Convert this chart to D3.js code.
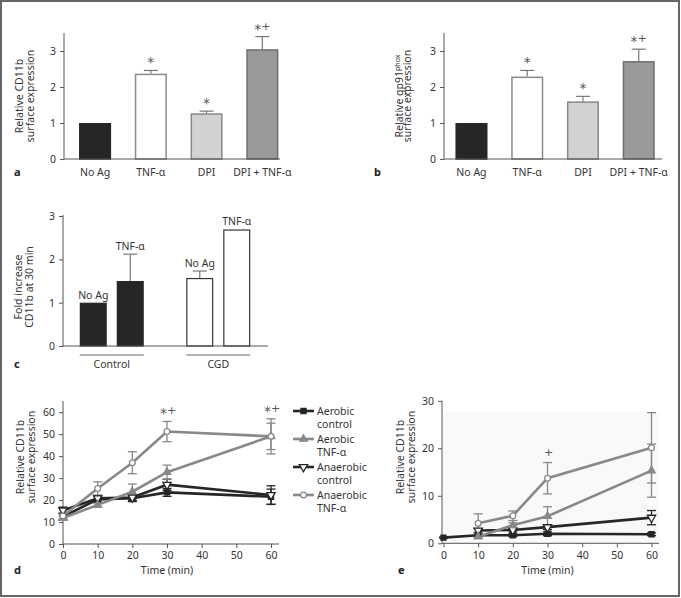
<!DOCTYPE html>
<html><head><meta charset="utf-8">
<script src="https://cdn.jsdelivr.net/npm/d3@7"></script>
<style>
body{margin:0;background:#fff}
svg{display:block;font-family:"Noto Sans",sans-serif}
</style></head>
<body><svg id="c" width="681" height="598"></svg>
<script>
// ---------- DATA ----------
const barCats = ["No Ag", "TNF-α", "DPI", "DPI + TNF-α"];
const cd11bVals = [1.0, 2.37, 1.27, 3.05];
const cd11bErr = [0, 0.09, 0.06, 0.35];
const gp91Vals = [1.0, 2.29, 1.60, 2.72];
const gp91Err = [0, 0.17, 0.14, 0.33];
const barSig = ["", "*", "*", "*+"];
const barTicks = [0, 1, 2, 3];

const cGroups = ["Control", "CGD"];
const cConds = ["No Ag", "TNF-α"];
const controlVals = [1.0, 1.5];
const controlErr = [0, 0.62];
const cgdVals = [1.57, 2.69];
const cgdErr = [0.16, 0];
const cTicks = [0, 1, 2, 3];

const timePts = [0, 10, 20, 30, 60];
const timeTicks = [0, 10, 20, 30, 40, 50, 60];
const seriesNames = ["Aerobic control", "Aerobic TNF-α", "Anaerobic control", "Anaerobic TNF-α"];

const dAerCtrl = [12.5, 20.3, 20.8, 23.5, 21.5];
const dAerCtrlErr = [1.5, 1.5, 1.5, 1.8, 3.5];
const dAerTnf = [11.8, 17.8, 23.8, 32.7, 49.0];
const dAerTnfErr = [1.0, 1.0, 3.5, 3.2, 6.0];
const dAnaCtrl = [15.3, 20.8, 21.2, 27.0, 22.3];
const dAnaCtrlErr = [1.5, 1.2, 1.5, 2.5, 4.2];
const dAnaTnf = [12.8, 25.3, 37.0, 51.2, 49.0];
const dAnaTnfErr = [1.5, 3.0, 5.0, 4.6, 8.0];
const dTicks = [0, 10, 20, 30, 40, 50, 60];
const dSig = [null, null, null, "*+", "*+"];

const eAerCtrl = [1.2, 1.7, 1.7, 2.0, 1.9];
const eAerCtrlErr = [0.1, 0.3, 0.3, 0.4, 0.3];
const eAerTnf = [null, 1.4, 3.8, 5.7, 15.3];
const eAerTnfErr = [0, 0.3, 0.5, 2.0, 5.6];
const eAnaCtrl = [null, 2.7, 2.8, 3.4, 5.4];
const eAnaCtrlErr = [0, 0.4, 0.4, 0.5, 1.5];
const eAnaTnf = [null, 4.2, 5.8, 13.7, 20.1];
const eAnaTnfErr = [0, 2.0, 1.0, 3.3, 7.4];
const eTicks = [0, 10, 20, 30];
const eSig = [null, null, null, "+", null];

// ---------- SETUP ----------
const svg = d3.select("#c");
const AX = "#555", TXT = "#333", FS = 10.5;

svg.append("rect").attr("x", 1).attr("y", 1).attr("width", 678).attr("height", 595)
  .attr("fill", "none").attr("stroke", "#666").attr("stroke-width", 2);

function yAxis(g, y, ticks) {
  g.call(d3.axisLeft(y).tickValues(ticks).tickSize(4).tickPadding(4).tickFormat(d3.format("d")));
  g.select(".domain").remove();
  g.selectAll(".tick line").attr("stroke", AX);
  g.selectAll("text").attr("fill", TXT).style("font-size", FS + "px").style("font-family", "Noto Sans");
}
function vline(g, x, y1, y2) {
  g.append("line").attr("x1", x).attr("x2", x).attr("y1", y1).attr("y2", y2).attr("stroke", AX).attr("stroke-width", 1);
}
function hline(g, x1, x2, y) {
  g.append("line").attr("x1", x1).attr("x2", x2).attr("y1", y).attr("y2", y).attr("stroke", AX).attr("stroke-width", 1);
}
function yLabel(x, y, lines) {
  const t = svg.append("text").attr("transform", `translate(${x},${y}) rotate(-90)`)
    .attr("text-anchor", "middle").attr("fill", TXT).style("font-size", FS + "px");
  lines.forEach((l, i) => {
    const ts = t.append("tspan").attr("x", 0).attr("dy", i === 0 ? 0 : 11);
    if (Array.isArray(l)) {
      ts.text(l[0]);
      t.append("tspan").attr("dy", -3).style("font-size", "7px").text(l[1]);
      t.append("tspan").attr("dy", 3).text("");
    } else ts.text(l);
  });
}
function panelLabel(x, y, s) {
  svg.append("text").attr("x", x).attr("y", y).attr("font-weight", "bold")
    .style("font-size", "11px").attr("fill", "#222").text(s);
}
function sigText(x, y, s) {
  const t = svg.append("text").attr("x", x).attr("y", y).attr("text-anchor", "middle")
    .attr("fill", "#555").style("font-family", "DejaVu Sans").style("font-size", "11px");
  let shifted = false;
  s.split("").forEach(ch => {
    if (ch === "*") {
      t.append("tspan").attr("dy", shifted ? 0 : 4).style("font-size", "14px").text(ch);
      shifted = true;
    } else {
      t.append("tspan").attr("dy", shifted ? -4 : 0).text(ch);
      shifted = false;
    }
  });
}

const barFill = ["#262626", "#ffffff", "#d2d2d2", "#9a9a9a"];
const barStroke = ["#262626", "#8a8a8a", "#888888", "#6e6e6e"];

// ---------- BAR PANELS a, b ----------
function barPanel(axX, axEnd, bandStart, vals, errs) {
  const y = d3.scaleLinear().domain([0, 3.5]).range([159, 33]);
  const x = d3.scaleBand().domain(barCats).range([bandStart, bandStart + 223]).paddingInner(0.425).paddingOuter(0.2125);
  const g = svg.append("g");
  barCats.forEach((c, i) => {
    if (errs[i] > 0) {
      const cx = x(c) + x.bandwidth() / 2;
      g.append("line").attr("x1", cx).attr("x2", cx).attr("y1", y(vals[i])).attr("y2", y(vals[i] + errs[i]))
        .attr("stroke", "#777").attr("stroke-width", 1.2);
      g.append("line").attr("x1", cx - 7).attr("x2", cx + 7).attr("y1", y(vals[i] + errs[i])).attr("y2", y(vals[i] + errs[i]))
        .attr("stroke", "#777").attr("stroke-width", 1.2);
    }
  });
  g.selectAll("rect.bar").data(barCats).join("rect")
    .attr("x", d => x(d) + 0.75).attr("width", x.bandwidth() - 1.5)
    .attr("y", (d, i) => y(vals[i]) + 0.75).attr("height", (d, i) => y(0) - y(vals[i]) - 0.75)
    .attr("fill", (d, i) => barFill[i]).attr("stroke", (d, i) => barStroke[i]).attr("stroke-width", 1.5);
  barCats.forEach((c, i) => {
    if (barSig[i]) sigText(x(c) + x.bandwidth() / 2, y(vals[i] + errs[i]) - 7, barSig[i]);
    g.append("text").attr("x", x(c) + x.bandwidth() / 2).attr("y", 176).attr("text-anchor", "middle")
      .attr("fill", TXT).style("font-size", FS + "px").text(c);
  });
  vline(g, axX, 33, 159.5);
  hline(g, axX, axEnd, 159);
  yAxis(svg.append("g").attr("transform", `translate(${axX},0)`), y, barTicks);
}
barPanel(64, 280, 67.2, cd11bVals, cd11bErr);
barPanel(444, 662, 443.6, gp91Vals, gp91Err);
yLabel(23, 96, ["Relative CD11b", "surface expression"]);
yLabel(403, 96, [["Relative gp91", "phox"], "surface expression"]);
panelLabel(14, 176, "a");
panelLabel(374, 176, "b");

// ---------- PANEL c ----------
{
  const y = d3.scaleLinear().domain([0, 3]).range([346, 216]);
  const x0 = d3.scaleBand().domain(cGroups).range([58.75, 271.75]);
  const x1 = d3.scaleBand().domain(cConds).range([16, 90]).paddingInner(0.27).paddingOuter(0.135);
  const g = svg.append("g");
  const groupVals = [controlVals, cgdVals], groupErr = [controlErr, cgdErr];
  const fills = ["#262626", "#ffffff"], strokes = ["#262626", "#333"];
  cGroups.forEach((grp, gi) => {
    cConds.forEach((cond, ci) => {
      const v = groupVals[gi][ci], e = groupErr[gi][ci];
      const bx = x0(grp) + x1(cond), cx = bx + x1.bandwidth() / 2;
      if (e > 0) {
        g.append("line").attr("x1", cx).attr("x2", cx).attr("y1", y(v)).attr("y2", y(v + e)).attr("stroke", "#777").attr("stroke-width", 1.2);
        g.append("line").attr("x1", cx - 7).attr("x2", cx + 7).attr("y1", y(v + e)).attr("y2", y(v + e)).attr("stroke", "#777").attr("stroke-width", 1.2);
      }
      g.append("rect").attr("x", bx + 0.6).attr("width", x1.bandwidth() - 1.2).attr("y", y(v) + 0.6).attr("height", y(0) - y(v) - 0.6)
        .attr("fill", fills[gi]).attr("stroke", strokes[gi]).attr("stroke-width", 1.2);
      g.append("text").attr("x", cx).attr("y", y(v + e) - 4).attr("text-anchor", "middle").attr("fill", TXT)
        .style("font-size", FS + "px").text(cond);
    });
    const gx1 = x0(grp) + x1(cConds[0]), gx2 = x0(grp) + x1(cConds[1]) + x1.bandwidth();
    g.append("line").attr("x1", gx1).attr("x2", gx2).attr("y1", 355).attr("y2", 355).attr("stroke", "#666");
    g.append("text").attr("x", (gx1 + gx2) / 2).attr("y", 368).attr("text-anchor", "middle").attr("fill", TXT)
      .style("font-size", FS + "px").text(grp);
  });
  vline(g, 63, 215, 346.5);
  hline(g, 63, 268, 346);
  yAxis(svg.append("g").attr("transform", "translate(63,0)"), y, cTicks);
  yLabel(22, 287, ["Fold increase", "CD11b at 30 min"]);
  panelLabel(14, 368, "c");
}

// ---------- LINE PANELS d, e ----------
const sColor = ["#262626", "#888888", "#262626", "#888888"];
const symType = [d3.symbolSquare, d3.symbolTriangle, d3.symbolTriangle, d3.symbolCircle];
const symFill = ["#262626", "#888888", "#ffffff", "#ffffff"];
const symSize = [26, 24, 30, 26];
const symRot = [0, 0, 180, 0];

function drawMarker(g, i, x, y) {
  g.append("path").attr("d", d3.symbol().type(symType[i]).size(symSize[i])())
    .attr("transform", `translate(${x},${y}) rotate(${symRot[i]})`)
    .attr("fill", symFill[i]).attr("stroke", sColor[i]).attr("stroke-width", 1.3);
}

function linePanel(o) {
  const x = d3.scaleLinear().domain([0, 60]).range([o.x0, o.x60]);
  const y = d3.scaleLinear().domain([0, o.ymax]).range([o.base, o.top]);
  const g = svg.append("g");
  if (o.bg) g.append("rect").attr("x", o.axX + 1).attr("y", o.bgTop).attr("width", o.axEnd - o.axX - 1).attr("height", o.base - o.bgTop).attr("fill", o.bg);
  vline(g, o.axX, o.top, o.base + 0.5);
  hline(g, o.axX, o.axEnd, o.base);
  const ya = svg.append("g").attr("transform", `translate(${o.axX},0)`);
  yAxis(ya, y, o.yticks);
  const xa = svg.append("g").attr("transform", `translate(0,${o.base})`);
  xa.call(d3.axisBottom(x).tickValues(timeTicks).tickSize(4).tickPadding(4).tickFormat(d3.format("d")));
  xa.select(".domain").remove();
  xa.selectAll(".tick line").attr("stroke", AX);
  xa.selectAll("text").attr("fill", TXT).style("font-size", FS + "px").style("font-family", "Noto Sans");
  svg.append("text").attr("x", (o.x0 + o.x60) / 2).attr("y", 574).attr("text-anchor", "middle").attr("fill", TXT)
    .style("font-size", FS + "px").text("Time (min)");

  const order = [0, 2, 1, 3];
  order.forEach(si => {
    const vals = o.series[si], errs = o.errs[si];
    timePts.forEach((t, k) => {
      if (vals[k] == null || !errs[k]) return;
      const cx = x(t);
      g.append("line").attr("x1", cx).attr("x2", cx).attr("y1", y(vals[k] - errs[k])).attr("y2", y(vals[k] + errs[k]))
        .attr("stroke", sColor[si]).attr("stroke-width", 1.3);
      [vals[k] - errs[k], vals[k] + errs[k]].forEach(v => {
        g.append("line").attr("x1", cx - 4.5).attr("x2", cx + 4.5).attr("y1", y(v)).attr("y2", y(v))
          .attr("stroke", sColor[si]).attr("stroke-width", 1.3);
      });
    });
  });
  order.forEach(si => {
    const vals = o.series[si];
    const pts = timePts.map((t, k) => [t, vals[k]]);
    g.append("path").datum(pts)
      .attr("d", d3.line().defined(d => d[1] != null).x(d => x(d[0])).y(d => y(d[1])))
      .attr("fill", "none").attr("stroke", sColor[si]).attr("stroke-width", 2.6);
  });
  order.forEach(si => {
    const vals = o.series[si];
    timePts.forEach((t, k) => { if (vals[k] != null) drawMarker(g, si, x(t), y(vals[k])); });
  });
  timePts.forEach((t, k) => {
    if (!o.sig[k]) return;
    let top = -Infinity;
    o.series.forEach((s, si) => { if (s[k] != null) top = Math.max(top, s[k] + o.errs[si][k]); });
    sigText(x(t) + 1, y(top) - 7, o.sig[k]);
  });
}

linePanel({
  x0: 63, x60: 271, axX: 63, axEnd: 279, base: 544, top: 401, ymax: 65.1, yticks: dTicks,
  series: [dAerCtrl, dAerTnf, dAnaCtrl, dAnaTnf], errs: [dAerCtrlErr, dAerTnfErr, dAnaCtrlErr, dAnaTnfErr], sig: dSig
});
yLabel(24, 457, ["Relative CD11b", "surface expression"]);
panelLabel(14, 574, "d");

linePanel({
  x0: 443.5, x60: 651.5, axX: 442, axEnd: 659, base: 543.3, top: 400.8, ymax: 30, yticks: eTicks,
  bg: "#f9f9f9", bgTop: 412,
  series: [eAerCtrl, eAerTnf, eAnaCtrl, eAnaTnf], errs: [eAerCtrlErr, eAerTnfErr, eAnaCtrlErr, eAnaTnfErr], sig: eSig
});
yLabel(404, 457, ["Relative CD11b", "surface expression"]);
panelLabel(398, 574, "e");

// legend
{
  const lg = svg.append("g");
  const ys = [411, 439, 467, 495];
  seriesNames.forEach((n, i) => {
    lg.append("line").attr("x1", 293).attr("x2", 314).attr("y1", ys[i]).attr("y2", ys[i])
      .attr("stroke", sColor[i]).attr("stroke-width", 2.6);
    drawMarker(lg, i, 303.5, ys[i]);
    const parts = n.split(" ");
    const t = lg.append("text").attr("x", 317).attr("y", ys[i] + 4).attr("fill", TXT).style("font-size", FS + "px");
    t.append("tspan").attr("x", 317).text(parts[0]);
    t.append("tspan").attr("x", 317).attr("dy", 12.5).text(parts[1]);
  });
}
</script></body></html>
